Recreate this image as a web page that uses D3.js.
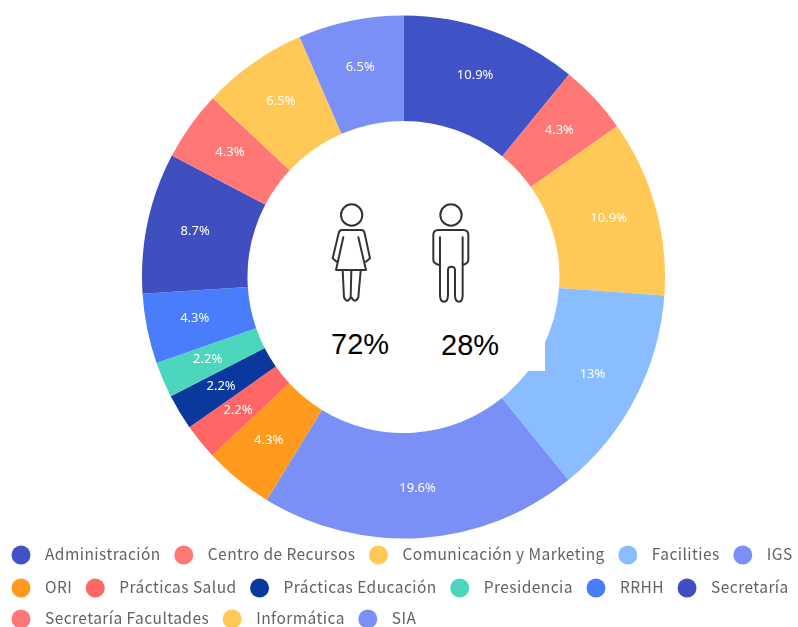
<!DOCTYPE html>
<html>
<head>
<meta charset="utf-8">
<script src="https://cdn.jsdelivr.net/npm/d3@7"></script>
<style>
    html, body { margin: 0; padding: 0; background: #fff; }
    svg { display: block; }
    .slicelabel { font-family: "Noto Sans", sans-serif; font-size: 13px; fill: #fff; text-anchor: middle; filter: blur(0.35px); }
    .legendlabel { font-family: "Noto Sans CJK SC", "Noto Sans", sans-serif; font-size: 15.5px; letter-spacing: 0.45px; fill: #5f6368; filter: blur(0.35px); }
    .share { font-family: "Liberation Sans", sans-serif; font-size: 29px; fill: #000; }
    .icon { fill: none; stroke: #333; stroke-width: 6; stroke-linejoin: round; stroke-linecap: round; filter: blur(0.3px); }
</style>
</head>
<body>
<div id="vis"></div>
<script>
// Data -----------------------------------------------------------------------

const AREAS = ["Administración", "Centro de Recursos", "Comunicación y Marketing",
    "Facilities", "IGS", "ORI", "Prácticas Salud", "Prácticas Educación",
    "Presidencia", "RRHH", "Secretaría", "Secretaría Facultades", "Informática", "SIA"];
const SHARES = [10.9, 4.3, 10.9, 13, 19.6, 4.3, 2.2, 2.2, 2.2, 4.3, 8.7, 4.3, 6.5, 6.5];
const COLOURS = ["#3f52c6", "#ff7875", "#ffc857", "#8abdff", "#7a90f7", "#ff9a1f", "#ff6666",
    "#0a389c", "#4bd6bd", "#4a7dfb", "#3f4fc0", "#ff7875", "#ffc857", "#7a90f7"];
const GENDER_LABELS = ["72%", "28%"];

// Chart ----------------------------------------------------------------------

const width = 798;
const height = 627;

const svg = d3.select("#vis")
    .append("svg")
    .attr("width", width)
    .attr("height", height);

const ring = svg.append("g")
    .attr("transform", "translate(403.5,277)");

const pie = d3.pie().sort(null).value(d => d.share);
const arc = d3.arc().innerRadius(156).outerRadius(261.5);
const labelArc = d3.arc().innerRadius(213).outerRadius(213);

const slices = pie(AREAS.map((area, i) => ({area, share: SHARES[i], colour: COLOURS[i]})));

ring.selectAll(".slice")
    .data(slices)
    .enter()
    .append("path")
    .attr("class", "slice")
    .attr("d", arc)
    .attr("fill", d => d.data.colour);

ring.selectAll(".slicelabel")
    .data(slices)
    .enter()
    .append("text")
    .attr("class", "slicelabel")
    .attr("transform", d => `translate(${labelArc.centroid(d)})`)
    .attr("dy", "0.2em")
    .text(d => `${d.data.share}%`);

// The white panel behind the icons, it clips the ring at its lower right corner
svg.append("rect")
    .attr("x", 320)
    .attr("y", 215)
    .attr("width", 225)
    .attr("height", 156)
    .attr("fill", "#fff");

// Icons, drawn at 3x and scaled down
const icons = svg.append("g")
    .attr("class", "icon")
    .attr("transform", "translate(300,180) scale(0.3333)");

icons.append("circle").attr("cx", 155).attr("cy", 105).attr("r", 32);
icons.append("path").attr("d",
    "M130 172 L108 270 H198 L175 172 M125 150 H185 Q192 150 194 160 L210 235 L198 245" +
    " M125 150 Q118 150 116 160 L98 235 L110 245" +
    " M128 272 L132 352 Q142 372 152 352 L154 272 M154 352 Q165 372 175 352 L182 272");

icons.append("circle").attr("cx", 453).attr("cy", 105).attr("r", 32);
icons.append("path").attr("d",
    "M420 172 V345 Q420 365 432 365 Q444 365 444 345 V270 Q444 260 454 260 Q465 260 465 270" +
    " V345 Q465 365 477 365 Q488 365 488 345 V172" +
    " M418 255 Q400 250 400 240 V165 Q400 150 415 150 H490 Q505 150 505 165 V240 Q505 250 488 255");

svg.selectAll(".share")
    .data(GENDER_LABELS)
    .enter()
    .append("text")
    .attr("class", "share")
    .attr("x", (d, i) => [331, 441][i])
    .attr("y", (d, i) => [354, 355][i])
    .text(d => d);

// Legend, flowed left to right, rows break where the original breaks --------------

const legend = svg.append("g");
const markerR = 9.5;
const textGap = 14.5;
const itemGap = 13.5;
const rowY = [555, 588, 619];
const rowStarts = [0, 5, 11];

let x = 11.5;
let row = -1;

slices.forEach((d, i) => {
    if (rowStarts.includes(i)) {
        x = 11.5;
        row += 1;
    }
    legend.append("circle")
        .attr("cx", x + markerR)
        .attr("cy", rowY[row])
        .attr("r", markerR)
        .attr("fill", d.data.colour);
    const label = legend.append("text")
        .attr("class", "legendlabel")
        .attr("x", x + markerR * 2 + textGap)
        .attr("y", rowY[row])
        .attr("dy", "0.35em")
        .text(d.data.area);
    x += markerR * 2 + textGap + label.node().getComputedTextLength() + itemGap;
});
</script>
</body>
</html>
